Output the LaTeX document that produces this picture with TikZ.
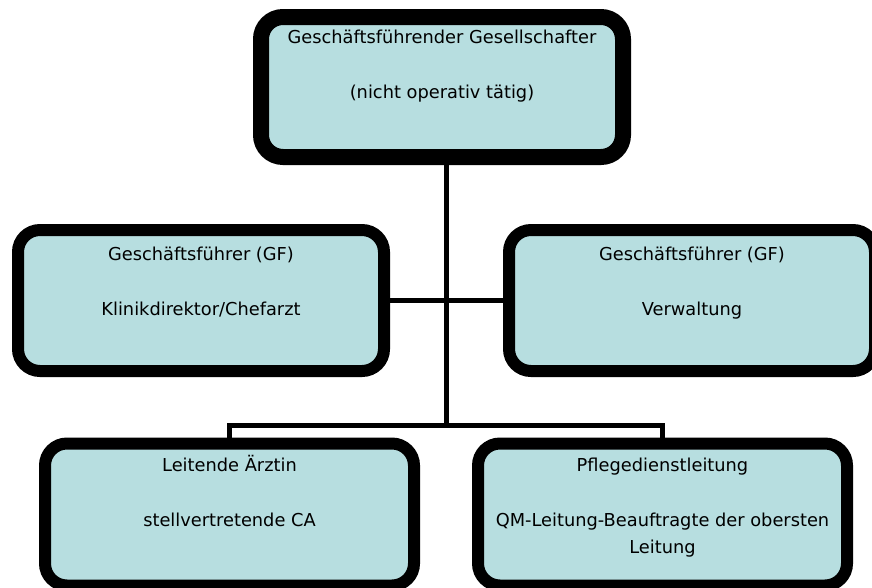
\documentclass[tikz,border=0pt]{standalone}
\usepackage{fontspec}
\setmainfont{DejaVu Sans}
\usepackage{tikz}
\usetikzlibrary{positioning}
\definecolor{boxblue}{RGB}{183,222,224}

\begin{document}
\begin{tikzpicture}[x=1pt, y=-1pt,
  orgbox/.style={draw=black, fill=boxblue, line width=12pt, rounded corners=22pt, minimum width=366pt, minimum height=141pt},
  orgtext/.style={inner sep=0pt, outer sep=0pt, align=center, font=\fontsize{17.8pt}{27.5pt}\selectfont},
  conn/.style={draw=black, line width=5pt}]
\useasboundingbox (0,0) rectangle (872,587);

% boxes
\node[orgbox, line width=16pt, minimum width=362pt, minimum height=140pt] (gesell) at (442,87) {};
\node[orgbox] (klinik) at (201,300.5) {};
\node[orgbox] (verw) at (692,300.5) {};
\node[orgbox, minimum width=369pt, minimum height=142pt] (aerztin) at (229.5,514.5) {};
\node[orgbox, minimum width=369pt, minimum height=142pt] (pflege) at (662.5,514.5) {};

% texts
\node[orgtext, below=18pt of gesell.north] (gesell-txt) {\rule{0pt}{16.5pt}Geschäftsführender Gesellschafter\\[27.5pt](nicht operativ tätig)};
\node[orgtext, below=20pt of klinik.north] (klinik-txt) {\rule{0pt}{16.5pt}Geschäftsführer (GF)\\[27.5pt]Klinikdirektor/Chefarzt};
\node[orgtext, below=20pt of verw.north] (verw-txt) {\rule{0pt}{16.5pt}Geschäftsführer (GF)\\[27.5pt]Verwaltung};
\node[orgtext, below=17pt of aerztin.north] (aerztin-txt) {\rule{0pt}{16.5pt}Leitende Ärztin\\[27.5pt]stellvertretende CA};
\node[orgtext, below=17pt of pflege.north] (pflege-txt) {\rule{0pt}{16.5pt}Pflegedienstleitung\\[27.5pt]QM-Leitung-Beauftragte der obersten\\Leitung};

% connectors
\coordinate (fork) at (446.5,425.5);
\draw[conn] (gesell.south -| fork) -- (fork);
\draw[conn] (klinik.east) -- (verw.west);
\draw[conn] (aerztin.north) |- (fork) -| (pflege.north);
\end{tikzpicture}
\end{document}
